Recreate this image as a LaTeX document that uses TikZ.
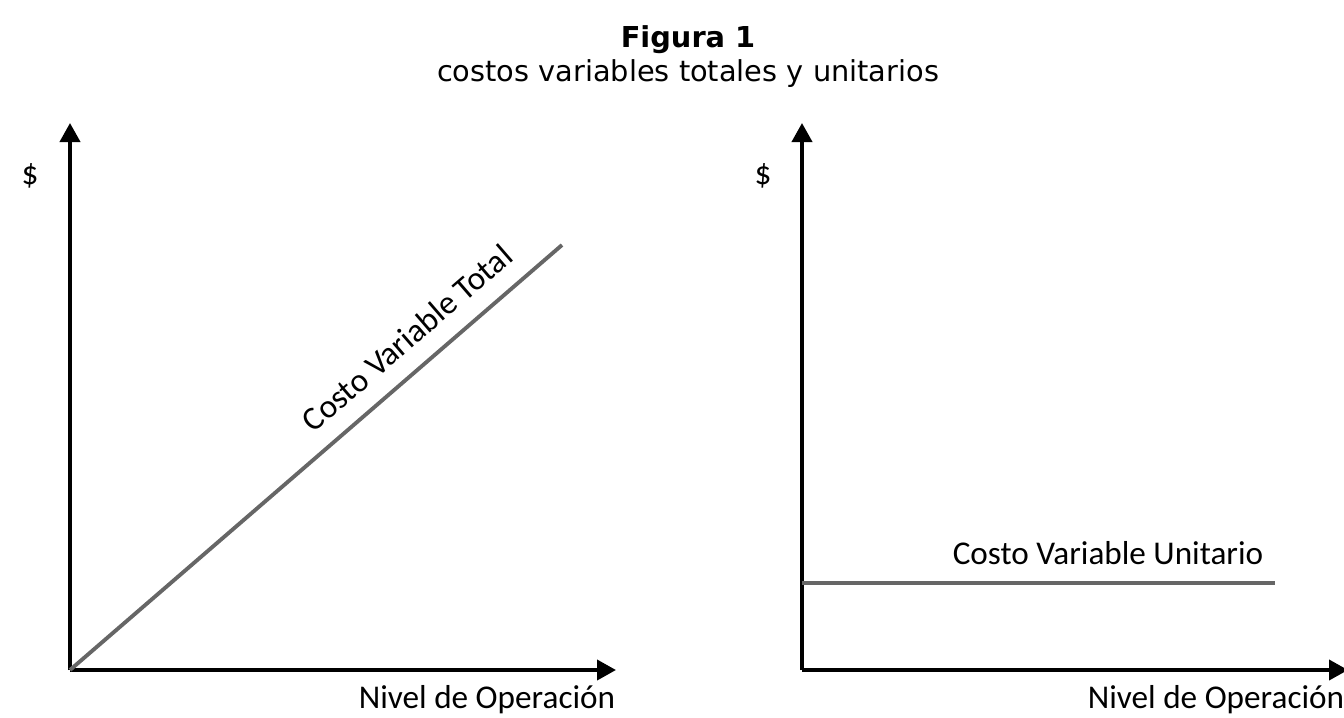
\documentclass[tikz,border=0pt]{standalone}
\usepackage{fontspec}
\setmainfont{Carlito}
\newfontfamily\titulofont{DejaVu Sans}
\usetikzlibrary{arrows.meta}

\begin{document}
\begin{tikzpicture}[x = 0.02cm, y = -0.02cm,
                      ejes/.style = {line width = 2.2pt, -{Triangle[length = 0.38cm, width = 0.4cm]}},
                      costo/.style = {line width = 2.2pt, draw = black!60},
                      etiqueta/.style = {font = \fontsize{18.9}{22}\selectfont, inner sep = 0pt},
                      titulo/.style = {font = \titulofont\fontsize{16.4}{20}\selectfont, inner sep = 0pt}]
    \useasboundingbox (0, 0) rectangle (1344, 717);
    \node [titulo, anchor=base] (fig) at (688, 47){\bfseries Figura 1};
    \node [titulo, anchor=base] (sub) at (688, 81){costos variables totales y unitarios};
    % costo variable total
    \coordinate (o1) at (70, 670);
    \coordinate (y1) at (70, 123);
    \coordinate (x1) at (616, 670);
    \coordinate (t1) at (562, 245);
    \node [etiqueta] (d1) at (30, 176){\$};
    \node [etiqueta, anchor=base] (n1) at (487, 708){Nivel de Operación};
    \draw [ejes] (o1) -- (y1);
    \draw [ejes] (o1) -- (x1);
    \draw [costo] (o1) -- (t1) node [etiqueta, pos=0.726, sloped, anchor=south, inner ysep=10pt] (cvt){Costo Variable Total};
    % costo variable unitario
    \coordinate (o2) at (802, 670);
    \coordinate (y2) at (802, 123);
    \coordinate (x2) at (1348, 670);
    \coordinate (h2) at (802, 583);
    \coordinate (u2) at (1275, 583);
    \node [etiqueta] (d2) at (763, 176){\$};
    \node [etiqueta, anchor=base] (n2) at (1216, 708){Nivel de Operación};
    \node [etiqueta, anchor=base] (cvu) at (1108, 564){Costo Variable Unitario};
    \draw [ejes] (o2) -- (y2);
    \draw [ejes] (o2) -- (x2);
    \draw [costo] (h2) -- (u2);
    \end{tikzpicture}
\end{document}
